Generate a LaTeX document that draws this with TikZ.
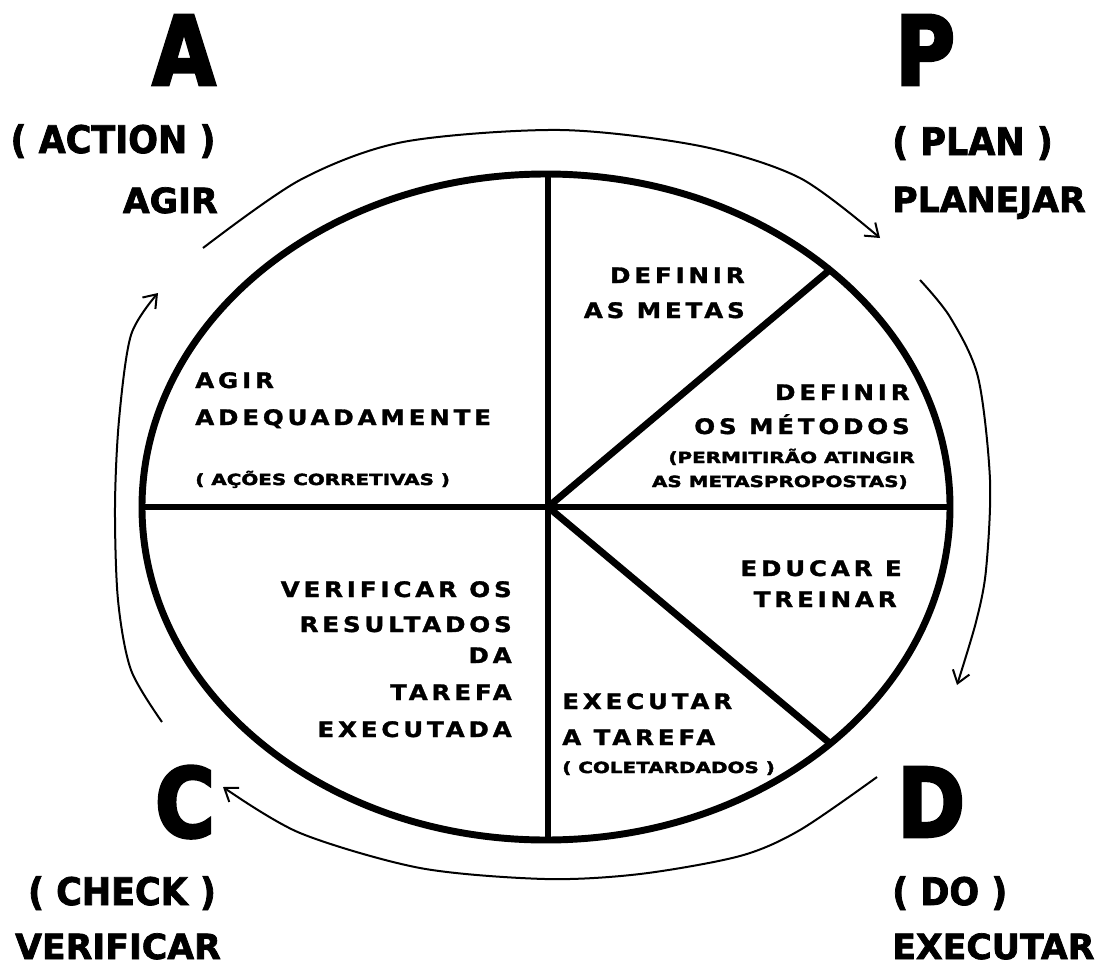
\documentclass[tikz,border=0pt]{standalone}
\usepackage{fontspec}
\setmainfont{DejaVu Sans}
\newfontfamily\capsfont{DejaVu Sans}[LetterSpace=18,FakeStretch=1.15,FakeBold=1.5]
\newfontfamily\widefont{DejaVu Sans}[FakeStretch=1.3,FakeBold=2.5]
\newfontfamily\cycfont{DejaVu Sans}[FakeBold=2]
\newfontfamily\parenfont{DejaVu Sans}[FakeStretch=0.92,FakeBold=2]
\newfontfamily\letterfont{DejaVu Sans}[FakeStretch=0.85,FakeBold=3]
\usetikzlibrary{arrows.meta}

\begin{document}
\begin{tikzpicture}[x=0.75pt, y=-0.75pt,
    rim/.style={line width=5.2pt},
    cyc/.style={line width=1.5pt, -{Straight Barb[length=9pt,width=13pt]}},
    inner/.style={inner sep=0pt, font=\capsfont\bfseries\fontsize{16}{18}\selectfont},
    small/.style={inner sep=0pt, font=\widefont\bfseries\fontsize{11.5}{13}\selectfont},
    letter/.style={inner sep=0pt, text depth=0pt, font=\letterfont\bfseries\fontsize{72}{80}\selectfont},
    phase/.style={inner sep=0pt, text depth=0pt, font=\parenfont\bfseries\fontsize{28.5}{32}\selectfont},
    verb/.style={inner sep=0pt, text depth=0pt, font=\cycfont\bfseries\fontsize{26}{30}\selectfont}]
    \useasboundingbox (0,0) rectangle (1106,967);

    % Circle and slices
    \coordinate (ctr) at (546,507);
    \coordinate (hub) at (548,507);
    \coordinate (top) at (548,174);
    \coordinate (bot) at (548,840);
    \coordinate (lft) at (142,507);
    \coordinate (rgt) at (950,507);
    \coordinate (ne) at (832,268);
    \coordinate (se) at (832,745);
    \draw[rim] (ctr) ellipse [x radius=404, y radius=333];
    \draw[rim] (top) -- (bot);
    \draw[rim] (lft) -- (rgt);
    \draw[rim] (hub) -- (ne);
    \draw[rim] (hub) -- (se);

    % Cycle arrows
    \coordinate (a1) at (203,248);
    \coordinate (a2) at (880,238);
    \coordinate (p1) at (920,280);
    \coordinate (p2) at (957,685);
    \coordinate (d1) at (877,777);
    \coordinate (d2) at (223,787);
    \coordinate (c1) at (162,722);
    \coordinate (c2) at (158,293);
    \draw[cyc] plot[smooth] coordinates {(a1) (300,180) (403,142) (560,130) (700,146) (800,178) (a2)};
    \draw[cyc] plot[smooth] coordinates {(p1) (950,317) (978,377) (990,480) (986,570) (976,622) (p2)};
    \draw[cyc] plot[smooth] coordinates {(d1) (800,830) (740,856) (640,874) (545,879) (420,868) (300,833) (d2)};
    \draw[cyc] plot[smooth] coordinates {(c1) (131,670) (118,600) (115,507) (119,420) (131,335) (c2)};

    % Phase labels
    \node[letter, anchor=base] (A) at (184,85) {A};
    \node[phase, anchor=base] (action) at (113,153) {( ACTION )};
    \node[verb, anchor=base east] (agir) at (218,213) {AGIR};
    \node[letter, anchor=base west] (P) at (895,85) {P};
    \node[phase, anchor=base west] (plan) at (892,155) {( PLAN )};
    \node[verb, anchor=base west] (planejar) at (892,212) {PLANEJAR};
    \node[letter, anchor=base] (C) at (185,837) {C};
    \node[phase, anchor=base] (check) at (122,905) {( CHECK )};
    \node[verb, anchor=base] (verificar) at (118,959) {VERIFICAR};
    \node[letter, anchor=base west] (D) at (897,837) {D};
    \node[phase, anchor=base west] (do) at (892,905) {( DO )};
    \node[verb, anchor=base west] (executar) at (892,959) {EXECUTAR};

    % Slice texts
    \node[inner, anchor=base west] (act1) at (195,388) {AGIR};
    \node[inner, anchor=base west] (act2) at (195,425) {ADEQUADAMENTE};
    \node[small, anchor=base west] (act3) at (195,485) {( AÇÕES CORRETIVAS )};
    \node[inner, anchor=base east] (goal1) at (745,283) {DEFINIR};
    \node[inner, anchor=base east] (goal2) at (745,318) {AS METAS};
    \node[inner, anchor=base east] (meth1) at (910,400) {DEFINIR};
    \node[inner, anchor=base east] (meth2) at (910,434) {OS MÉTODOS};
    \node[small, anchor=base east] (meth3) at (915,463) {(PERMITIRÃO ATINGIR};
    \node[small, anchor=base east] (meth4) at (908,487) {AS METASPROPOSTAS)};
    \node[inner, anchor=base east] (edu1) at (902,576) {EDUCAR E};
    \node[inner, anchor=base east] (edu2) at (897,607) {TREINAR};
    \node[inner, anchor=base west] (exe1) at (562,709) {EXECUTAR};
    \node[inner, anchor=base west] (exe2) at (562,745) {A TAREFA};
    \node[small, anchor=base west] (exe3) at (562,773) {( COLETARDADOS )};
    \node[inner, anchor=base east] (chk1) at (512,597) {VERIFICAR OS};
    \node[inner, anchor=base east] (chk2) at (512,632) {RESULTADOS};
    \node[inner, anchor=base east] (chk3) at (512,663) {DA};
    \node[inner, anchor=base east] (chk4) at (512,700) {TAREFA};
    \node[inner, anchor=base east] (chk5) at (512,737) {EXECUTADA};
\end{tikzpicture}
\end{document}
